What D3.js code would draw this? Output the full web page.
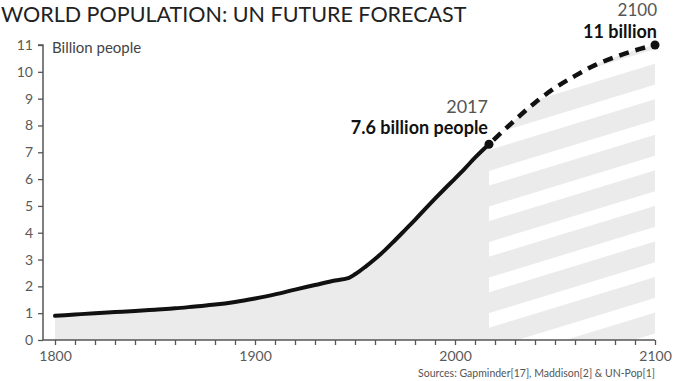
<!DOCTYPE html>
<html><head><meta charset="utf-8">
<script src="https://cdn.jsdelivr.net/npm/d3@7"></script>
<style>body{margin:0;background:#fff}svg{display:block}text{font-family:Lato,"Open Sans",sans-serif}</style>
</head><body><svg id="c" width="678" height="381"></svg>
<script>
const histYears = [1800,1810,1820,1830,1840,1850,1860,1870,1880,1890,1900,1910,1920,1930,1940,1947,1950,1955,1960,1965,1970,1975,1980,1985,1990,1995,2000,2005,2010,2017];
const histValues = [0.9,0.95,1.0,1.04,1.08,1.13,1.18,1.25,1.32,1.42,1.55,1.7,1.88,2.05,2.22,2.32,2.45,2.72,3.02,3.35,3.72,4.1,4.48,4.88,5.27,5.65,6.02,6.4,6.8,7.3];
const fcYears = [2017,2030,2040,2050,2060,2070,2080,2090,2100];
const fcValues = [7.3,8.2,8.85,9.4,9.85,10.25,10.55,10.8,11.0];
const yTicks = [0,1,2,3,4,5,6,7,8,9,10,11];
const xLabels = [1800,1900,2000,2100];

const svg = d3.select("#c");
const x = d3.scaleLinear().domain([1800,2100]).range([55,655]);
const y = d3.scaleLinear().domain([0,11]).range([340,45]);

const hist = histYears.map((d,i)=>({t:d,v:histValues[i]}));
const fc = fcYears.map((d,i)=>({t:d,v:fcValues[i]}));

const defs = svg.append("defs");
const pat = defs.append("pattern").attr("id","stripes").attr("patternUnits","userSpaceOnUse")
  .attr("width",60).attr("height",34).attr("patternTransform","translate(489,150) rotate(-17)");
pat.append("rect").attr("width",60).attr("height",34).attr("fill","#ebebeb");
pat.append("rect").attr("y",20).attr("width",60).attr("height",14).attr("fill","#ffffff");

const area = d3.area().x(d=>x(d.t)).y0(y(0)).y1(d=>y(d.v)).curve(d3.curveMonotoneX);
svg.append("path").datum(hist).attr("d",area).attr("fill","#ebebeb");
svg.append("path").datum(fc).attr("d",area).attr("fill","url(#stripes)");

const yAxis = d3.axisLeft(y).tickValues(yTicks).tickSize(5).tickPadding(5);
const gy = svg.append("g").attr("transform","translate(43,0)").call(yAxis);
gy.select(".domain").attr("d",`M-5,${y(11)}H0V${y(0)}`).attr("stroke","#555").attr("stroke-width",1.5);
gy.selectAll(".tick line").attr("stroke","#555").attr("stroke-width",1.3);
gy.selectAll(".tick text").attr("fill","#5a5a5a").style("font-size","14px").style("font-family","Lato, sans-serif");

const xAxis = d3.axisBottom(x).tickValues(d3.range(1800,2101,10)).tickSize(5).tickPadding(6)
  .tickFormat(d=> xLabels.includes(d) ? d : "");
const gx = svg.append("g").attr("transform","translate(0,340)").call(xAxis);
gx.select(".domain").attr("d",`M43,0H655`).attr("stroke","#555").attr("stroke-width",1.5);
gx.selectAll(".tick line").attr("stroke","#555").attr("stroke-width",1.3);
gx.selectAll(".tick text").attr("fill","#5a5a5a").style("font-size","14px").style("font-family","Lato, sans-serif");

const line = d3.line().x(d=>x(d.t)).y(d=>y(d.v)).curve(d3.curveMonotoneX);
svg.append("path").datum(hist).attr("d",line).attr("fill","none").attr("stroke","#111")
  .attr("stroke-width",4).attr("stroke-linejoin","round").attr("stroke-linecap","round");
svg.append("path").datum(fc).attr("d",line).attr("fill","none").attr("stroke","#111")
  .attr("stroke-width",4.5).attr("stroke-dasharray","10,7").attr("stroke-dashoffset",-6);
svg.selectAll("circle.pt").data([hist[hist.length-1], fc[fc.length-1]]).join("circle")
  .attr("cx",d=>x(d.t)).attr("cy",d=>y(d.v)).attr("r",4.5).attr("fill","#111");

svg.append("text").attr("x",1).attr("y",22).attr("fill","#222").style("font-size","21.5px")
  .text("WORLD POPULATION: UN FUTURE FORECAST");
svg.append("text").attr("x",52).attr("y",53).attr("fill","#444").style("font-size","15px").text("Billion people");
svg.append("text").attr("x",488).attr("y",113).attr("text-anchor","end").attr("fill","#555").style("font-size","18px").text("2017");
svg.append("text").attr("x",488).attr("y",134).attr("text-anchor","end").attr("fill","#111").style("font-size","18px").style("font-weight","bold").text("7.6 billion people");
svg.append("text").attr("x",657).attr("y",16).attr("text-anchor","end").attr("fill","#555").style("font-size","17px").text("2100");
svg.append("text").attr("x",657).attr("y",38).attr("text-anchor","end").attr("fill","#111").style("font-size","18px").style("font-weight","bold").text("11 billion");
svg.append("text").attr("x",655).attr("y",377).attr("text-anchor","end").attr("fill","#555").style("font-size","10.5px").text("Sources: Gapminder[17], Maddison[2] & UN-Pop[1]");
</script></body></html>
